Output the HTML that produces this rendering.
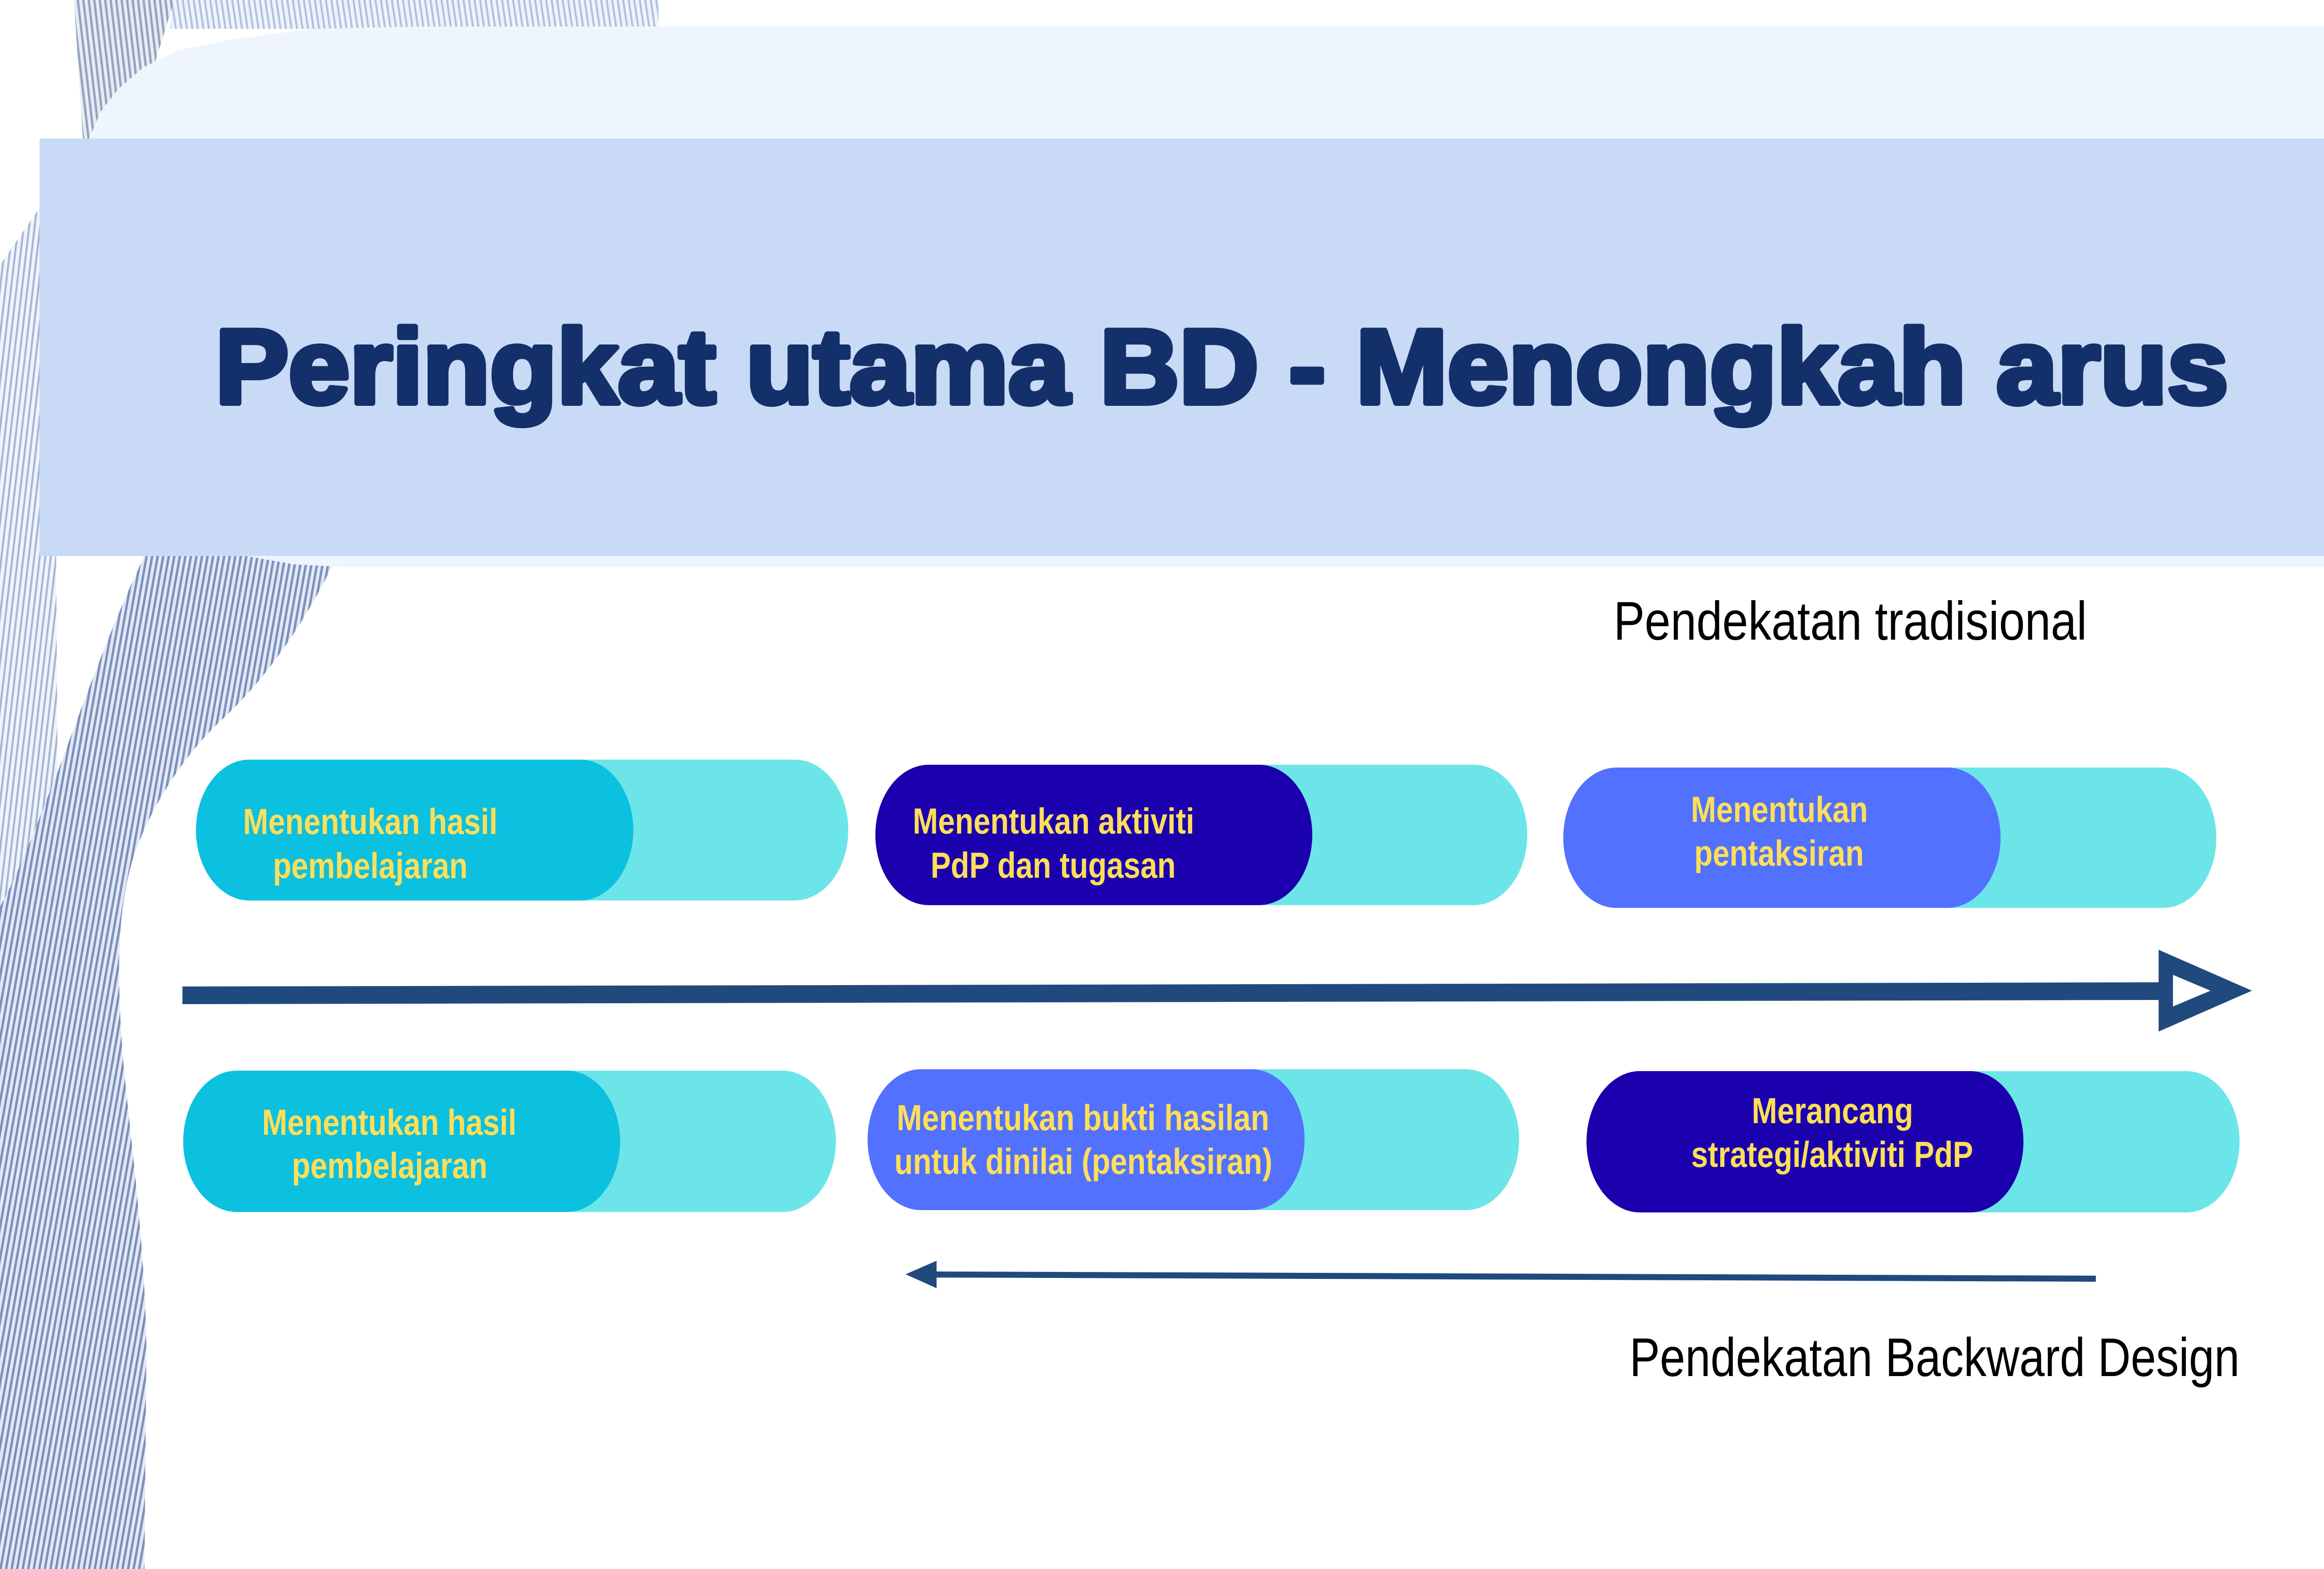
<!DOCTYPE html>
<html>
<head>
<meta charset="utf-8">
<style>
  html, body { margin: 0; padding: 0; background: #ffffff; width: 100%; height: 100%; overflow: hidden; }
  svg { display: block; width: 100vw; height: 100vh; position: absolute; left: 0; top: 0; }
  .pill { font-family: "Liberation Sans", Arial, sans-serif; font-weight: bold; font-size: 78px; fill: #FFDE59; }
  .lbl { font-family: "Liberation Sans", Arial, sans-serif; font-size: 117px; fill: #000000; }
  .title { font-family: "Liberation Sans", Arial, sans-serif; font-weight: bold; font-size: 227px; fill: #13306A; stroke: #13306A; stroke-width: 12px; stroke-linejoin: round; }
</style>
</head>
<body>
<svg viewBox="0 0 6000 3375" preserveAspectRatio="none" xmlns="http://www.w3.org/2000/svg">
  <defs>
    <pattern id="stDark" width="14" height="14" patternUnits="userSpaceOnUse" patternTransform="rotate(12)">
      <rect width="14" height="14" fill="#e2e8f3"/>
      <rect width="6" height="14" fill="#7a8fbd"/>
    </pattern>
    <pattern id="stLight" width="14" height="14" patternUnits="userSpaceOnUse" patternTransform="rotate(8)">
      <rect width="14" height="14" fill="#f0f3f9"/>
      <rect width="5" height="14" fill="#a3b4d6"/>
    </pattern>
    <pattern id="stTop" width="14" height="14" patternUnits="userSpaceOnUse" patternTransform="rotate(-10)">
      <rect width="14" height="14" fill="#eef3fb"/>
      <rect width="5" height="14" fill="#aebfe0"/>
    </pattern>
    <pattern id="stStrand" width="14" height="14" patternUnits="userSpaceOnUse" patternTransform="rotate(-8)">
      <rect width="14" height="14" fill="#e8ecf3"/>
      <rect width="6" height="14" fill="#95a3c0"/>
    </pattern>
  </defs>

  <!-- background -->
  <rect x="0" y="0" width="6000" height="3375" fill="#ffffff"/>

  <!-- decorative striped ribbon (left) -->
  <rect x="440" y="0" width="1260" height="62" fill="url(#stTop)"/>
  <path d="M191,0 L450,0 L340,298 L214,298 Z" fill="url(#stStrand)"/>
  <path d="M0,570 L100,450 L145,1196 L149,1700 L0,2000 Z" fill="url(#stLight)"/>
  <path d="M373,1196 L870,1196 C 800,1320 700,1450 574,1547 C 480,1620 400,1720 350,1830 C 300,1950 300,2100 320,2300 C 345,2500 375,2700 378,2900 L373,3375 L0,3375 L0,1950 C 60,1860 100,1760 149,1660 C 220,1500 300,1320 373,1196 Z" fill="url(#stDark)"/>

  <!-- light header shape -->
  <path d="M1100,57 L6000,57 L6000,1220 L900,1220 L760,1214 L635,1196 L500,1150 L260,950 L200,450 L205,380 L230,298 L260,240 L306,191 L370,145 L459,108 L600,85 L803,62 Z" fill="#EFF5FD"/>

  <!-- blue title band -->
  <rect x="102" y="298" width="5898" height="898" fill="#C8DAF5"/>

  <!-- title -->
  <text class="title" x="556" y="867" textLength="5197" lengthAdjust="spacingAndGlyphs">Peringkat utama BD - Menongkah arus</text>

  <!-- label top -->
  <text class="lbl" x="4166" y="1376" textLength="1222" lengthAdjust="spacingAndGlyphs">Pendekatan tradisional</text>

  <!-- top pills -->
  <rect x="506" y="1634" width="1684" height="303" rx="138" ry="151.5" fill="#6CE5E8"/>
  <rect x="506" y="1634" width="1129" height="303" rx="138" ry="151.5" fill="#0CC0DF"/>
  <text class="pill" x="956" y="1794" text-anchor="middle" textLength="657" lengthAdjust="spacingAndGlyphs">Menentukan hasil</text>
  <text class="pill" x="956" y="1889" text-anchor="middle" textLength="503" lengthAdjust="spacingAndGlyphs">pembelajaran</text>

  <rect x="2260" y="1645" width="1683" height="302" rx="138" ry="151" fill="#6CE5E8"/>
  <rect x="2260" y="1645" width="1128" height="302" rx="138" ry="151" fill="#1B00AD"/>
  <text class="pill" x="2720" y="1793" text-anchor="middle" textLength="727" lengthAdjust="spacingAndGlyphs">Menentukan aktiviti</text>
  <text class="pill" x="2719" y="1888" text-anchor="middle" textLength="633" lengthAdjust="spacingAndGlyphs">PdP dan tugasan</text>

  <rect x="4036" y="1651" width="1686" height="302" rx="138" ry="151" fill="#6CE5E8"/>
  <rect x="4036" y="1651" width="1129" height="302" rx="138" ry="151" fill="#5271FF"/>
  <text class="pill" x="4594" y="1768" text-anchor="middle" textLength="457" lengthAdjust="spacingAndGlyphs">Menentukan</text>
  <text class="pill" x="4593" y="1862" text-anchor="middle" textLength="438" lengthAdjust="spacingAndGlyphs">pentaksiran</text>

  <!-- main forward arrow -->
  <polygon points="471,2122 5575,2113 5575,2151 471,2160" fill="#204A7D"/>
  <path d="M5573,2043 L5814,2131 L5573,2219 Z M5610,2097 L5610,2165 L5707,2131 Z" fill="#204A7D" fill-rule="evenodd"/>

  <!-- bottom pills -->
  <rect x="473" y="2303" width="1685" height="304" rx="138" ry="152" fill="#6CE5E8"/>
  <rect x="473" y="2303" width="1128" height="304" rx="138" ry="152" fill="#0CC0DF"/>
  <text class="pill" x="1005" y="2441" text-anchor="middle" textLength="657" lengthAdjust="spacingAndGlyphs">Menentukan hasil</text>
  <text class="pill" x="1006" y="2534" text-anchor="middle" textLength="505" lengthAdjust="spacingAndGlyphs">pembelajaran</text>

  <rect x="2240" y="2300" width="1682" height="303" rx="138" ry="151.5" fill="#6CE5E8"/>
  <rect x="2240" y="2300" width="1128" height="303" rx="138" ry="151.5" fill="#5271FF"/>
  <text class="pill" x="2796" y="2431" text-anchor="middle" textLength="962" lengthAdjust="spacingAndGlyphs">Menentukan bukti hasilan</text>
  <text class="pill" x="2797" y="2525" text-anchor="middle" textLength="976" lengthAdjust="spacingAndGlyphs">untuk dinilai (pentaksiran)</text>

  <rect x="4096" y="2304" width="1686" height="304" rx="138" ry="152" fill="#6CE5E8"/>
  <rect x="4096" y="2304" width="1128" height="304" rx="138" ry="152" fill="#1B00AD"/>
  <text class="pill" x="4731" y="2416" text-anchor="middle" textLength="417" lengthAdjust="spacingAndGlyphs">Merancang</text>
  <text class="pill" x="4730" y="2510" text-anchor="middle" textLength="728" lengthAdjust="spacingAndGlyphs">strategi/aktiviti PdP</text>

  <!-- backward arrow -->
  <polygon points="2410,2735 5411,2744 5411,2757 2410,2748" fill="#204A7D"/>
  <polygon points="2338,2741 2418,2712 2418,2771" fill="#204A7D"/>

  <!-- label bottom -->
  <text class="lbl" x="4207" y="2960" textLength="1575" lengthAdjust="spacingAndGlyphs">Pendekatan Backward Design</text>
</svg>
</body>
</html>
